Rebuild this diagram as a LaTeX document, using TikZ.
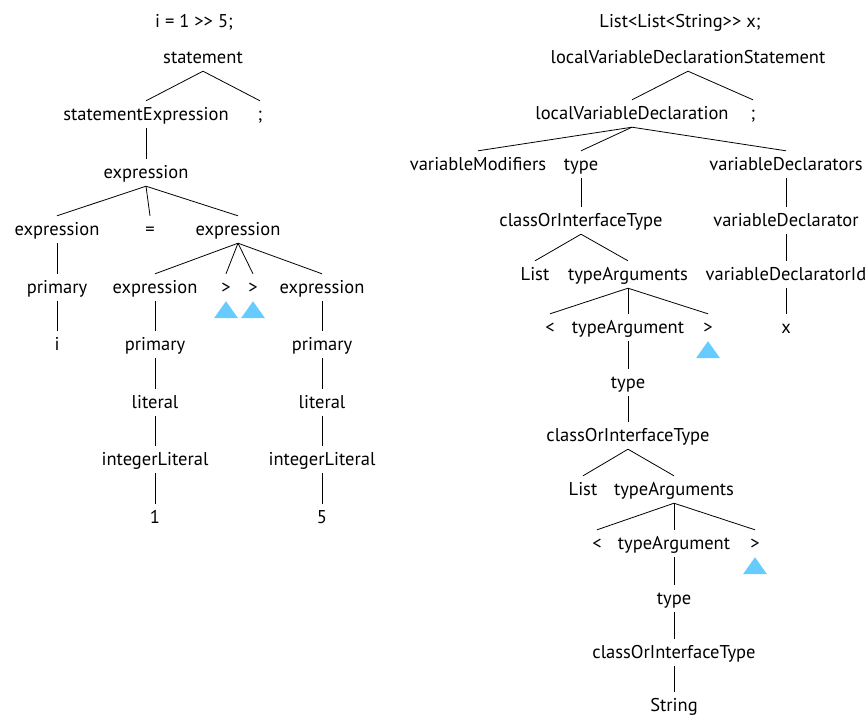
\documentclass[tikz,border=0pt]{standalone}
\usepackage{fontspec}
\setmainfont{PT Sans}
\definecolor{triblue}{RGB}{102,204,255}

\begin{document}
\begin{tikzpicture}[x=1pt, y=1pt,
		lbl/.style={anchor=base, inner sep=4pt, text height=15pt, text depth=4pt},
		edge/.style={line width=0.8pt},
		tri/.style={fill=triblue},
		font=\fontsize{18.5}{22}\selectfont]
	\useasboundingbox (0,0) rectangle (866,-715);
	
	% --- linker Baum: i = 1 >> 5; ---
	\node[lbl] (title1) at (194,-27) {i = 1 >\kern0pt> 5;};
	\node[lbl] (stmt) at (203,-63) {statement};
	\node[lbl] (stmtexpr) at (146,-120) {statementExpression};
	\node[lbl] (semi1) at (260,-120) {;};
	\node[lbl] (expr) at (146,-178) {expression};
	\node[lbl] (exprL) at (57,-235) {expression};
	\node[lbl] (eq) at (150,-235) {=};
	\node[lbl] (exprR) at (238,-235) {expression};
	\node[lbl] (prim1) at (57,-293) {primary};
	\node[lbl] (exprA) at (155,-293) {expression};
	\node[lbl] (gtA) at (226,-293) {>};
	\node[lbl] (gtB) at (253,-293) {>};
	\node[lbl] (exprB) at (322,-293) {expression};
	\node[lbl] (idi) at (57,-350) {i};
	\node[lbl] (prim2) at (155,-350) {primary};
	\node[lbl] (prim3) at (322,-350) {primary};
	\node[lbl] (lit1) at (155,-408) {literal};
	\node[lbl] (lit2) at (322,-408) {literal};
	\node[lbl] (int1) at (155,-465) {integerLiteral};
	\node[lbl] (int2) at (322,-465) {integerLiteral};
	\node[lbl] (one) at (155,-523) {1};
	\node[lbl] (five) at (322,-523) {5};
	
	% --- rechter Baum: List<List<String>> x; ---
	\node[lbl] (title2) at (680,-27) {List<List<String>\kern0pt> x;};
	\node[lbl] (lvds) at (688,-63) {localVariableDeclarationStatement};
	\node[lbl] (lvd) at (632,-119) {localVariableDeclaration};
	\node[lbl] (semi2) at (753,-119) {;};
	\node[lbl] (varmod) at (478,-170) {variableModifiers};
	\node[lbl] (type1) at (581,-170) {type};
	\node[lbl] (vardecls) at (786,-170) {variableDeclarators};
	\node[lbl] (coit1) at (581,-226) {classOrInterfaceType};
	\node[lbl] (vardecl) at (786,-226) {variableDeclarator};
	\node[lbl] (list1) at (535,-280) {List};
	\node[lbl] (targs1) at (628,-280) {typeArguments};
	\node[lbl] (vdid) at (786,-280) {variableDeclaratorId};
	\node[lbl] (lt1) at (550,-333) {<};
	\node[lbl] (targ1) at (628,-333) {typeArgument};
	\node[lbl] (gt1) at (708,-333) {>};
	\node[lbl] (xid) at (786,-333) {x};
	\node[lbl] (type2) at (628,-388) {type};
	\node[lbl] (coit2) at (628,-441) {classOrInterfaceType};
	\node[lbl] (list2) at (583,-495) {List};
	\node[lbl] (targs2) at (674,-495) {typeArguments};
	\node[lbl] (lt2) at (597,-549) {<};
	\node[lbl] (targ2) at (674,-549) {typeArgument};
	\node[lbl] (gt2) at (755,-549) {>};
	\node[lbl] (type3) at (674,-604) {type};
	\node[lbl] (coit3) at (674,-658) {classOrInterfaceType};
	\node[lbl] (str) at (674,-711) {String};
	
	% --- Kanten ---
	\foreach \p/\c in {stmt/stmtexpr, stmt/semi1, stmtexpr/expr,
		expr/exprL, expr/eq, expr/exprR, exprL/prim1, prim1/idi,
		exprR/exprA, exprR/gtA, exprR/gtB, exprR/exprB,
		exprA/prim2, prim2/lit1, lit1/int1, int1/one,
		exprB/prim3, prim3/lit2, lit2/int2, int2/five,
		lvds/lvd, lvds/semi2, lvd/varmod, lvd/type1, lvd/vardecls,
		type1/coit1, coit1/list1, coit1/targs1,
		targs1/lt1, targs1/targ1, targs1/gt1, targ1/type2, type2/coit2,
		coit2/list2, coit2/targs2, targs2/lt2, targs2/targ2, targs2/gt2,
		targ2/type3, type3/coit3, coit3/str,
		vardecls/vardecl, vardecl/vdid, vdid/xid}{
		\draw[edge] (\p.south) -- (\c.north);
	}
	
	% --- Dreiecke unter > ---
	\foreach \g in {gtA, gtB, gt1, gt2}{
		\fill[tri] (\g.south) -- ++(-12,-17) -- ++(24,0) -- cycle;
	}
	
\end{tikzpicture}
\end{document}
